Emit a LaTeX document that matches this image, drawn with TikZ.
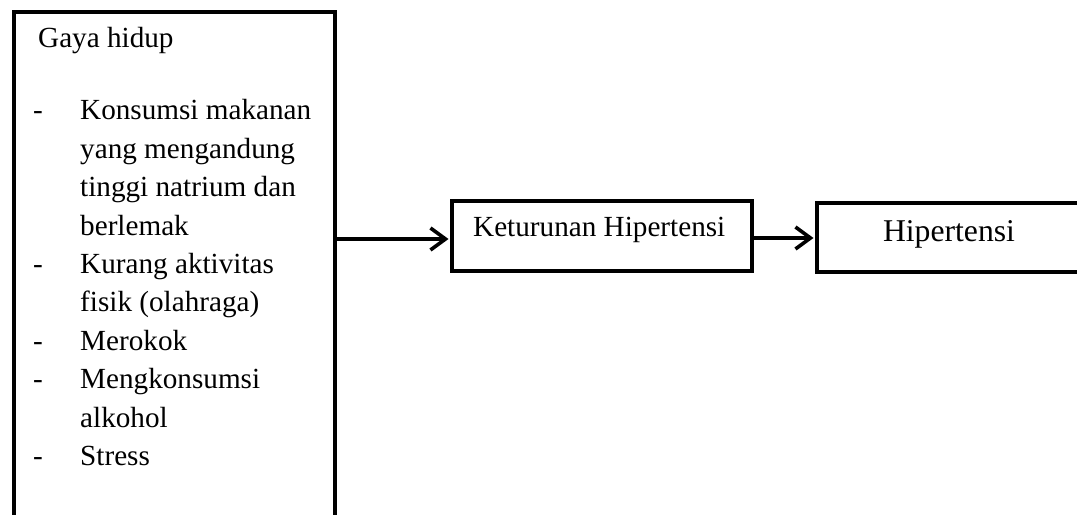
\documentclass[tikz,border=0pt]{standalone}
\usepackage{fontspec}
\setmainfont{Liberation Serif}
\usetikzlibrary{arrows.meta}
\begin{document}
\begin{tikzpicture}[x=1bp,y=-1bp,
  boxline/.style={draw=black,line width=3.6bp,inner sep=0pt},
  txt/.style={anchor=base west,inner sep=0pt,font=\fontsize{29.3}{36}\selectfont},
  bigtxt/.style={anchor=base,inner sep=0pt,font=\fontsize{31.8}{38}\selectfont},
  arr/.style={line width=3.6bp,-{Straight Barb[length=15bp,width=22bp,line width=3.6bp]}}]
\useasboundingbox (0,0) rectangle (1077,515);
\fill[white] (0,0) rectangle (1077,515);
% boxes
\node[boxline,line width=4.4bp,minimum width=321bp,minimum height=540bp,anchor=north west] (left) at (12,10) {};
\node[boxline,minimum width=300bp,minimum height=70bp,anchor=north west] (mid) at (450,199.5) {};
\node[boxline,minimum width=280bp,minimum height=69bp,anchor=north west] (right) at (815,201) {};
% texts
\node[txt] (t0) at (38,48) {Gaya hidup};
\foreach \i/\d/\t in {1/-/Konsumsi makanan,2//yang mengandung,3//tinggi natrium dan,4//berlemak,5/-/Kurang aktivitas,6//fisik (olahraga),7/-/Merokok,8/-/Mengkonsumsi,9//alkohol,10/-/Stress}{
  \node[txt] (d\i) at (33,{120+(\i-1)*38.4}) {\d};
  \node[txt] (l\i) at (80,{120+(\i-1)*38.4}) {\t};
}
\node[txt] (kh) at (473,237) {Keturunan Hipertensi};
\node[bigtxt] (h) at (949,242) {Hipertensi};
% arrows
\coordinate (a1) at (left.east |- 0,239);
\coordinate (b1) at (mid.west |- 0,239);
\draw[arr] (a1) -- ([xshift=-1.5bp]b1);
\coordinate (a2) at (mid.east |- 0,238);
\coordinate (b2) at (right.west |- 0,238);
\draw[arr] (a2) -- ([xshift=-1.5bp]b2);
\end{tikzpicture}
\end{document}
